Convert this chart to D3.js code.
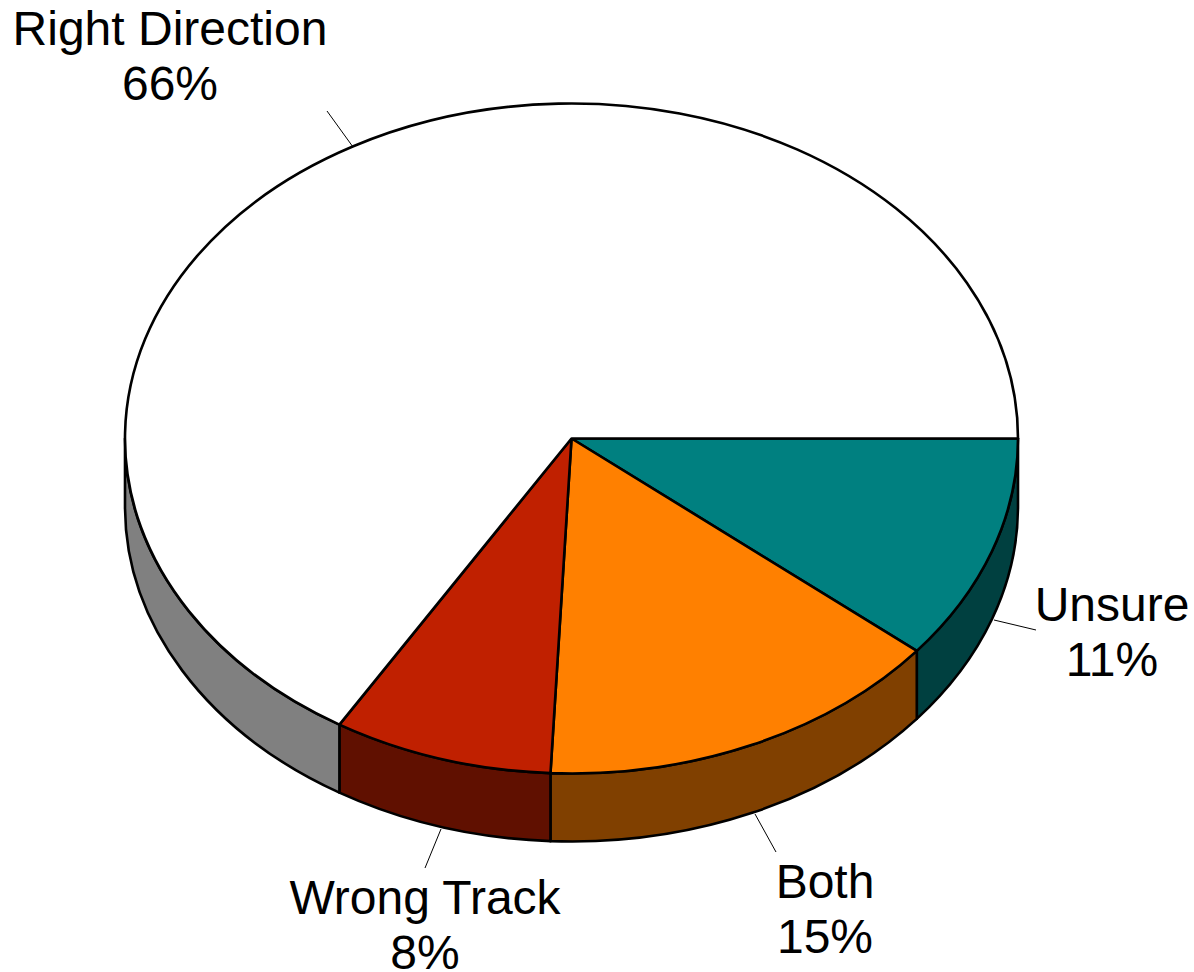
<!DOCTYPE html>
<html><head><meta charset="utf-8">
<script src="https://cdnjs.cloudflare.com/ajax/libs/d3/7.8.5/d3.min.js"></script>
<style>html,body{margin:0;background:#fff}svg{display:block}
text{font-family:"Liberation Sans",Arial,sans-serif;font-size:48px;fill:#000;text-anchor:middle}</style>
</head><body><svg id="c" width="1194" height="972"></svg>
<script>
const categories=["Unsure","Both","Wrong Track","Right Direction"];
const shares=[10.93,14.82,7.95,66.3];
const percentLabels=["11%","15%","8%","66%"];
const topColors=["#008080","#ff8000","#c02000","#ffffff"];
const sideColors=["#004040","#804000","#601000","#808080"];
const labelAnchors=[[1112,621],[825,898],[425,914],[170,45]];
const leaders=[[[994,620],[1036,630]],[[755,814],[776,852]],[[441,829],[425,868]],[[353,147],[327,111]]];

const cx=571.5,cy=438.5,rx=446.5,ry=335,depth=68;
const svg=d3.select("#c");
const arcs=d3.pie().sort(null).startAngle(Math.PI/2).endAngle(Math.PI/2+2*Math.PI)(shares);
// d3 angle is measured clockwise from 12 o'clock; convert to screen param
const pt=(a,dy=0)=>[cx+rx*Math.sin(a),cy-ry*Math.cos(a)+dy];
const f=p=>p[0].toFixed(2)+","+p[1].toFixed(2);
function topPath(d){
  const large=d.endAngle-d.startAngle>Math.PI?1:0;
  return `M${cx},${cy}L${f(pt(d.startAngle))}A${rx},${ry} 0 ${large} 1 ${f(pt(d.endAngle))}Z`;
}
function sidePath(d){
  // only the visible front half: screen-bottom, d3 angle in [PI/2, 3PI/2]
  const a0=Math.max(d.startAngle,Math.PI/2),a1=Math.min(d.endAngle,3*Math.PI/2);
  if(a1<=a0)return null;
  return `M${f(pt(a0))}A${rx},${ry} 0 0 1 ${f(pt(a1))}L${f(pt(a1,depth))}A${rx},${ry} 0 0 0 ${f(pt(a0,depth))}Z`;
}
svg.append("g").selectAll("path").data(arcs).join("path")
  .attr("d",sidePath).attr("fill",(d,i)=>sideColors[i])
  .attr("stroke","#000").attr("stroke-width",2.6).attr("stroke-linejoin","round");
svg.append("g").selectAll("path").data(arcs).join("path")
  .attr("d",topPath).attr("fill",(d,i)=>topColors[i])
  .attr("stroke","#000").attr("stroke-width",2.6).attr("stroke-linejoin","round");
svg.append("g").selectAll("line").data(leaders).join("line")
  .attr("x1",d=>d[0][0]).attr("y1",d=>d[0][1]).attr("x2",d=>d[1][0]).attr("y2",d=>d[1][1])
  .attr("stroke","#000").attr("stroke-width",1);
const t=svg.append("g").selectAll("text").data(categories).join("text")
  .attr("x",(d,i)=>labelAnchors[i][0]).attr("y",(d,i)=>labelAnchors[i][1]);
t.text(d=>d);
t.append("tspan").attr("x",(d,i)=>labelAnchors[i][0]).attr("dy",55).text((d,i)=>percentLabels[i]);
</script></body></html>
